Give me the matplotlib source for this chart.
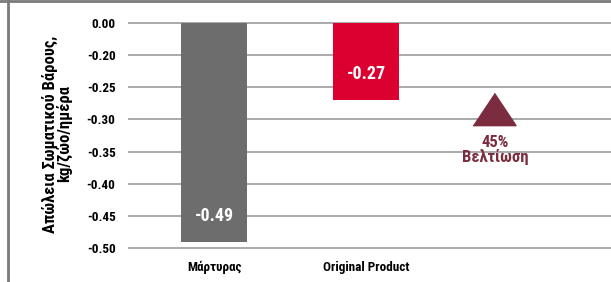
import matplotlib
matplotlib.use('Agg')
import matplotlib.pyplot as plt
from matplotlib.lines import Line2D
import numpy as np

plt.rcParams['font.family'] = ['Roboto Condensed', 'Open Sans Condensed', 'DejaVu Sans']
plt.rcParams['font.weight'] = 'bold'

categories = ['Μάρτυρας', 'Original Product']
values = [-0.49, -0.27]
bar_colors = ['#6d6d6d', '#dc0030']
tick_values = [0.00, -0.20, -0.25, -0.30, -0.35, -0.40, -0.45, -0.50]
tick_labels = ['0.00', '-0.20', '-0.25', '-0.30', '-0.35', '-0.40', '-0.45', '-0.50']
improvement = '45%\nΒελτίωση'
ylabel = 'Απώλεια Σωματικού Βάρους,\nkg/ζώο/ημέρα'


def to_pos(v):
    # broken axis: 0 -> -0.20 squeezed into one step, then 0.05 per step
    v = np.asarray(v, dtype=float)
    return np.where(v >= -0.20, v / 0.20, -1 - (-0.20 - v) / 0.05)


fig = plt.figure(figsize=(6.11, 2.82), dpi=100)
ax = fig.add_axes([128 / 611, 1 - 258 / 282, 483 / 611, 245 / 282])

x = np.arange(len(categories))
ax.bar(x, to_pos(values), width=0.43, color=bar_colors, zorder=3)

for xi, v in zip(x, values):
    ax.text(xi, to_pos(v) + 0.8, '%.2f' % v, ha='center', va='center',
            color='white', fontsize=13, fontweight='bold', zorder=4)

# improvement marker
ax.plot([1.84], [-2.68], marker=[(-1, -0.75), (1, -0.75), (0, 0.75)],
        markersize=31, color='#7b2c3f', linestyle='none', zorder=4)
ax.text(1.853, -3.95, improvement, ha='center', va='center', color='#7b2c3f',
        fontsize=12, fontweight='bold', linespacing=0.9)

ax.set_yticks(to_pos(tick_values))
ax.set_yticklabels(tick_labels, fontsize=9.5, fontweight='bold')
ax.set_xticks(x)
ax.set_xticklabels(categories, fontsize=9.5, fontweight='bold')
ax.tick_params(axis='y', length=0, pad=9)
ax.tick_params(axis='x', length=0, pad=2)
ax.set_xlim(-0.567, 2.613)
ax.set_ylim(-7 - 10 / 32.14, 10 / 32.14)
ax.grid(axis='y', color='#aaaaaa', linewidth=1.4, zorder=0)
for s in ax.spines.values():
    s.set_visible(False)

fig.text(57 / 611, 1 - 134 / 282, ylabel, rotation=90, ha='center', va='center',
         fontsize=12, fontweight='bold', linespacing=0.9)

# outer frame (top and left only)
fig.add_artist(Line2D([0, 1], [1 - 1 / 282, 1 - 1 / 282], color='#7a7a7a', linewidth=2))
fig.add_artist(Line2D([8 / 611, 8 / 611], [0, 1], color='#7a7a7a', linewidth=2))

fig.savefig('out.png', dpi=100)
